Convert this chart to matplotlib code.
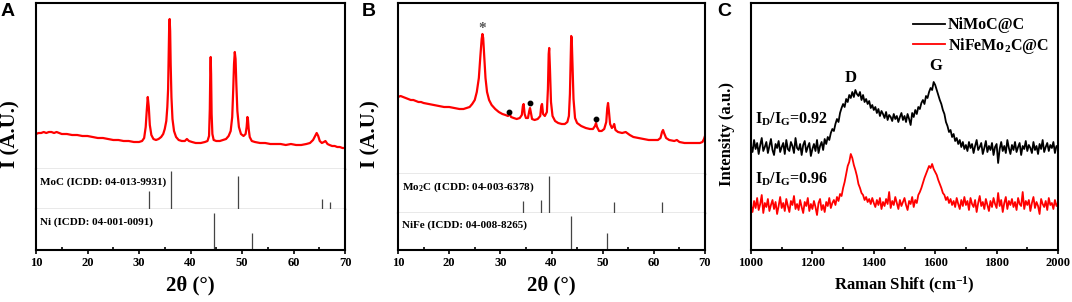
import numpy as np
import matplotlib
matplotlib.use('Agg')
import matplotlib.pyplot as plt
from matplotlib.ticker import MultipleLocator

plt.rcParams['font.family'] = ['Liberation Serif', 'DejaVu Serif']
plt.rcParams['font.weight'] = 'bold'
plt.rcParams['mathtext.fontset'] = 'custom'
plt.rcParams['mathtext.rm'] = 'Liberation Serif:bold'
plt.rcParams['mathtext.it'] = 'Liberation Serif:bold'
plt.rcParams['mathtext.bf'] = 'Liberation Serif:bold'

# ---- Panel A: XRD of NiMoC@C ----
xrd_a_2theta = [10.0, 10.5, 11, 11.5, 12, 12.5, 13, 13.5, 14, 14.5, 15, 16, 17, 18, 19, 20, 21, 22, 23, 24,
                25, 26, 27, 28, 29, 30, 30.6, 31.0, 31.3, 31.5, 31.7, 31.9, 32.1, 32.4, 32.8, 33.3, 33.8,
                34.3, 34.7, 35.0, 35.3, 35.5, 35.65, 35.75, 35.85, 35.95, 36.05, 36.15, 36.3, 36.5, 36.8,
                37.2, 37.7, 38.3, 38.9, 39.3, 39.7, 40.3, 41, 42, 42.8, 43.3, 43.6, 43.75, 43.85, 43.92,
                44.0, 44.1, 44.25, 44.5, 45, 45.7, 46.3, 46.9, 47.4, 47.8, 48.1, 48.3, 48.45, 48.6, 48.75,
                48.9, 49.1, 49.4, 49.8, 50.3, 50.7, 50.9, 51.05, 51.15, 51.3, 51.5, 51.9, 52.5, 53.5, 54.5,
                55.5, 56.5, 57.5, 58.5, 59.5, 60.5, 61.5, 62.5, 63.2, 63.8, 64.2, 64.5, 64.8, 65.1, 65.5,
                65.9, 66.2, 66.6, 67, 67.5, 68, 68.5, 69, 69.5, 70]
xrd_a_int = [35, 36, 36, 37, 36, 37, 37, 36, 37, 36, 35, 35, 34, 34, 33, 33, 32, 31, 31, 30,
             29, 29, 28, 28, 27, 27, 28, 31, 42, 58, 72, 62, 44, 34, 30, 29, 30,
             32, 35, 40, 48, 62, 80, 110, 140, 150, 138, 105, 72, 50, 38,
             32, 29, 28, 28, 30, 28, 27, 26, 26, 27, 28, 33, 60, 100, 112,
             95, 55, 35, 29, 28, 28, 29, 30, 33, 38, 52, 80, 105, 117, 110,
             85, 58, 42, 35, 33, 35, 42, 52, 50, 40, 32, 28, 27, 26, 26,
             25, 25, 25, 24, 25, 24, 24, 25, 26, 29, 33, 36, 33, 28, 26,
             27, 28, 25, 24, 23, 23, 22, 22, 21, 21]
moc_ref_2theta = [31.9, 36.3, 49.3, 65.5, 67.1]
moc_ref_int = [18, 38, 33, 10, 7]
ni_ref_2theta = [44.5, 51.9]
ni_ref_int = [37, 17]

# ---- Panel B: XRD of NiFeMo2C@C ----
xrd_b_2theta = [10, 10.5, 11, 11.5, 12, 12.5, 13, 13.5, 14, 14.5, 15, 16, 17, 18, 19, 20, 21, 22, 22.8,
                23.4, 24, 24.5, 25, 25.4, 25.8, 26.1, 26.35, 26.5, 26.65, 26.85, 27.1, 27.4, 27.8, 28.3,
                29, 29.7, 30.4, 31, 31.5, 31.8, 32.1, 32.6, 33.2, 33.8, 34.2, 34.4, 34.55, 34.75, 35,
                35.4, 35.65, 35.8, 35.95, 36.2, 36.7, 37.3, 37.8, 38.0, 38.15, 38.35, 38.7, 39.1, 39.3,
                39.45, 39.55, 39.7, 39.9, 40.2, 40.7, 41.3, 42, 42.6, 43.1, 43.4, 43.6, 43.75, 43.85,
                43.95, 44.1, 44.3, 44.6, 45, 45.8, 46.7, 47.5, 48.1, 48.5, 48.7, 48.9, 49.3, 49.8, 50.3,
                50.7, 50.9, 51.05, 51.2, 51.45, 51.8, 52.1, 52.25, 52.5, 53, 53.8, 54.5, 55.3, 56, 57,
                58, 59, 60, 60.8, 61.3, 61.6, 61.8, 62.0, 62.4, 63, 64, 64.5, 65, 66, 67, 68, 69, 69.5,
                69.8, 70]
xrd_b_int = [77, 78, 77, 76, 75, 74, 74, 73, 72, 72, 71, 70, 69, 68, 67, 67, 66, 65, 65,
             66, 67, 70, 74, 82, 96, 118, 135, 140, 136, 118, 96, 82, 74, 69,
             65, 62, 60, 59, 58, 60, 57, 56, 55, 56, 59, 68, 70, 60, 56,
             56, 63, 66, 62, 55, 54, 55, 58, 68, 70, 60, 58, 62, 85,
             120, 126, 105, 72, 58, 53, 51, 50, 50, 52, 58, 80, 115, 138,
             136, 110, 75, 56, 51, 48, 46, 45, 45, 48, 51, 47, 43, 43, 45,
             52, 66, 71, 64, 50, 46, 48, 50, 44, 42, 41, 42, 39, 37, 36,
             35, 34, 34, 34, 36, 42, 44, 41, 36, 34, 33, 34, 32, 31, 31, 31, 31, 32,
             35, 38]
mo2c_ref_2theta = [34.4, 38.0, 39.5, 52.3, 61.5]
mo2c_ref_int = [12, 13, 37, 11, 11]
nife_ref_2theta = [43.9, 50.9]
nife_ref_int = [34, 17]
star_2theta, star_int = 26.5, 146
dot_2theta = [31.75, 35.8, 48.7]
dot_int = [62, 71, 55]

# ---- Panel C: Raman ----
raman_shift = np.arange(1000, 2001, 5)
raman_nimoc = [104, 98, 110, 101, 107, 96, 105, 112, 99, 103, 108, 97, 104, 111, 100, 95, 106, 102, 109, 98,
               103, 107, 96, 110, 101, 99, 108, 104, 97, 112, 102, 100, 106, 95, 105, 109, 98, 103, 107, 94,
               101, 106, 99, 110, 97, 104, 108, 100, 111, 106, 113, 110, 117, 121, 119, 126, 131, 128, 137, 142,
               146, 143, 151, 148, 155, 152, 158, 153, 160, 156, 154, 158, 150, 155, 148, 151, 146, 149, 142, 145,
               140, 143, 137, 141, 134, 139, 136, 132, 138, 130, 135, 133, 129, 136, 131, 134, 128, 133, 137, 130,
               134, 128, 136, 131, 125, 137, 133, 140, 136, 143, 141, 147, 150, 146, 154, 152, 158, 162, 160, 168,
               165, 160, 155, 150, 146, 140, 136, 128, 124, 118, 120, 113, 116, 109, 112, 106, 110, 103, 108, 101,
               105, 99, 108, 102, 106, 97, 104, 110, 100, 103, 107, 96, 102, 109, 98, 104, 100, 107, 95, 103,
               106, 87, 101, 108, 99, 104, 97, 110, 102, 96, 105, 100, 108, 98, 103, 107, 95, 104, 101, 109,
               99, 105, 102, 97, 108, 100, 104, 96, 106, 101, 110, 98, 103, 107, 99, 105, 102, 108, 97, 104,
               103]
raman_nifemo2c = [44, 38, 49, 42, 52, 40, 46, 55, 37, 47, 43, 51, 39, 45, 50, 41, 48, 36, 44, 53,
                  42, 47, 39, 51, 44, 38, 49, 45, 54, 41, 46, 40, 50, 43, 37, 48, 44, 52, 39, 46,
                  41, 49, 43, 35, 47, 51, 40, 45, 38, 48, 44, 52, 42, 47, 50, 45, 53, 49, 56, 54,
                  62, 68, 76, 84, 88, 96, 92, 85, 80, 74, 66, 62, 57, 55, 50, 53, 48, 51, 46, 52,
                  47, 43, 50, 45, 52, 41, 48, 44, 51, 46, 58, 42, 49, 45, 53, 47, 41, 50, 44, 48,
                  52, 45, 40, 49, 46, 53, 43, 50, 47, 55, 58, 62, 67, 72, 76, 80, 84, 82, 86, 81,
                  78, 75, 70, 66, 62, 57, 55, 50, 53, 47, 51, 45, 49, 43, 52, 46, 41, 50, 44, 53,
                  45, 49, 40, 52, 46, 43, 50, 38, 47, 54, 44, 48, 41, 51, 45, 39, 49, 43, 52, 46,
                  42, 57, 44, 50, 38, 47, 53, 41, 49, 45, 51, 43, 48, 40, 52, 46, 44, 58, 41, 49,
                  45, 50, 39, 47, 53, 42, 48, 44, 36, 51, 46, 43, 49, 40, 52, 45, 47, 41, 50, 44,
                  47]

W, H = 1072, 302
fig = plt.figure(figsize=(W / 100, H / 100), dpi=100)


def px_axes(x0, y0, x1, y1):
    # axes from pixel box (top-left origin)
    return fig.add_axes([x0 / W, 1 - y1 / H, (x1 - x0) / W, (y1 - y0) / H])


def style_xticks(ax, major, minor):
    ax.xaxis.set_major_locator(MultipleLocator(major))
    ax.xaxis.set_minor_locator(MultipleLocator(minor))
    ax.tick_params(axis='x', which='major', direction='out', length=3, width=1.2,
                   labelsize=9, pad=2)
    ax.tick_params(axis='x', which='minor', direction='in', length=2.5, width=1.2)


def xrd_panel(x0, x1, ys, two_theta, inten, refs):
    y_top, y_s1, y_s2, y_bot = ys
    ax_t = px_axes(x0, y_top, x1, y_s1)
    ax_m = px_axes(x0, y_s1, x1, y_s2)
    ax_b = px_axes(x0, y_s2, x1, y_bot)
    ax_t.plot(two_theta, inten, color='#ff0000', lw=1.6)
    ax_t.set_ylim(0, y_s1 - y_top)
    for ax, (lab, pos, hts), hgt in zip([ax_m, ax_b], refs, [y_s2 - y_s1, y_bot - y_s2]):
        ax.vlines(pos, 0, hts, color='#444444', lw=0.9)
        ax.set_ylim(0, hgt)
        ax.text(0.012, 0.67, lab, transform=ax.transAxes, fontsize=8, va='center', ha='left')
    for ax in (ax_t, ax_m, ax_b):
        ax.set_xlim(10, 70)
        ax.set_yticks([])
        for s in ax.spines.values():
            s.set_linewidth(1.5)
            s.set_color('black')
        ax.tick_params(axis='x', which='both', labelbottom=False, bottom=False, top=False)
    for ax in (ax_t, ax_m):
        ax.spines['bottom'].set_color('#555555')
        ax.spines['bottom'].set_linewidth(0.9)
    ax_m.spines['top'].set_visible(False)
    ax_b.spines['top'].set_visible(False)
    style_xticks(ax_b, 10, 5)
    ax_b.tick_params(axis='x', which='both', bottom=True)
    ax_b.tick_params(axis='x', which='major', labelbottom=True)
    return ax_t


ax_a = xrd_panel(36, 345, (3, 169, 209, 250), xrd_a_2theta, xrd_a_int,
                 [('MoC (ICDD: 04-013-9931)', moc_ref_2theta, moc_ref_int),
                  ('Ni (ICDD: 04-001-0091)', ni_ref_2theta, ni_ref_int)])
ax_b = xrd_panel(398, 705, (3, 174, 213, 250), xrd_b_2theta, xrd_b_int,
                 [('Mo$_2$C (ICDD: 04-003-6378)', mo2c_ref_2theta, mo2c_ref_int),
                  ('NiFe (ICDD: 04-008-8265)', nife_ref_2theta, nife_ref_int)])
ax_b.text(star_2theta, star_int, '*', color='#555555', fontsize=11, ha='center', va='center')
ax_b.plot(dot_2theta, dot_int, 'o', color='black', ms=3.2)

# Raman panel
ax_c = px_axes(751, 3, 1058, 250)
ax_c.plot(raman_shift, raman_nimoc, color='black', lw=1.3, label='NiMoC@C')
ax_c.plot(raman_shift, raman_nifemo2c, color='#ff0000', lw=1.3, label='NiFeMo$_2$C@C')
ax_c.set_xlim(1000, 2000)
ax_c.set_ylim(0, 247)
ax_c.set_yticks([])
style_xticks(ax_c, 200, 100)
for s in ax_c.spines.values():
    s.set_linewidth(1.5)
ax_c.legend(loc='upper right', bbox_to_anchor=(0.99, 0.968), frameon=False, fontsize=11.5,
            handlelength=2.0, handletextpad=0.15, labelspacing=0.15, borderaxespad=0)
ax_c.text(1325, 172, 'D', fontsize=12, ha='center', va='center')
ax_c.text(1600, 184, 'G', fontsize=12, ha='center', va='center')
ax_c.text(1012, 131, 'I$_\\mathrm{D}$/I$_\\mathrm{G}$=0.92', fontsize=11.5, ha='left', va='center')
ax_c.text(1012, 71, 'I$_\\mathrm{D}$/I$_\\mathrm{G}$=0.96', fontsize=11.5, ha='left', va='center')

# labels
for xl in (190, 551):
    fig.text(xl / W, 1 - 285 / H, '2θ (°)', fontsize=15, ha='center', va='center')
for xl in (10, 370):
    fig.text(xl / W, 1 - 134 / H, 'I (A.U.)', fontsize=15, rotation=90, ha='center', va='center')
fig.text(904 / W, 1 - 285 / H, 'Raman Shift (cm$^{-1}$)', fontsize=12, ha='center', va='center')
fig.text(727 / W, 1 - 134 / H, 'Intensity (a.u.)', fontsize=12, rotation=90, ha='center', va='center')
for xl, letter in [(8, 'A'), (369, 'B'), (724, 'C')]:
    fig.text(xl / W, 1 - 12 / H, letter, fontsize=14, fontweight='bold', family='Liberation Sans',
             ha='center', va='center')

fig.savefig('out.png', dpi=100)
